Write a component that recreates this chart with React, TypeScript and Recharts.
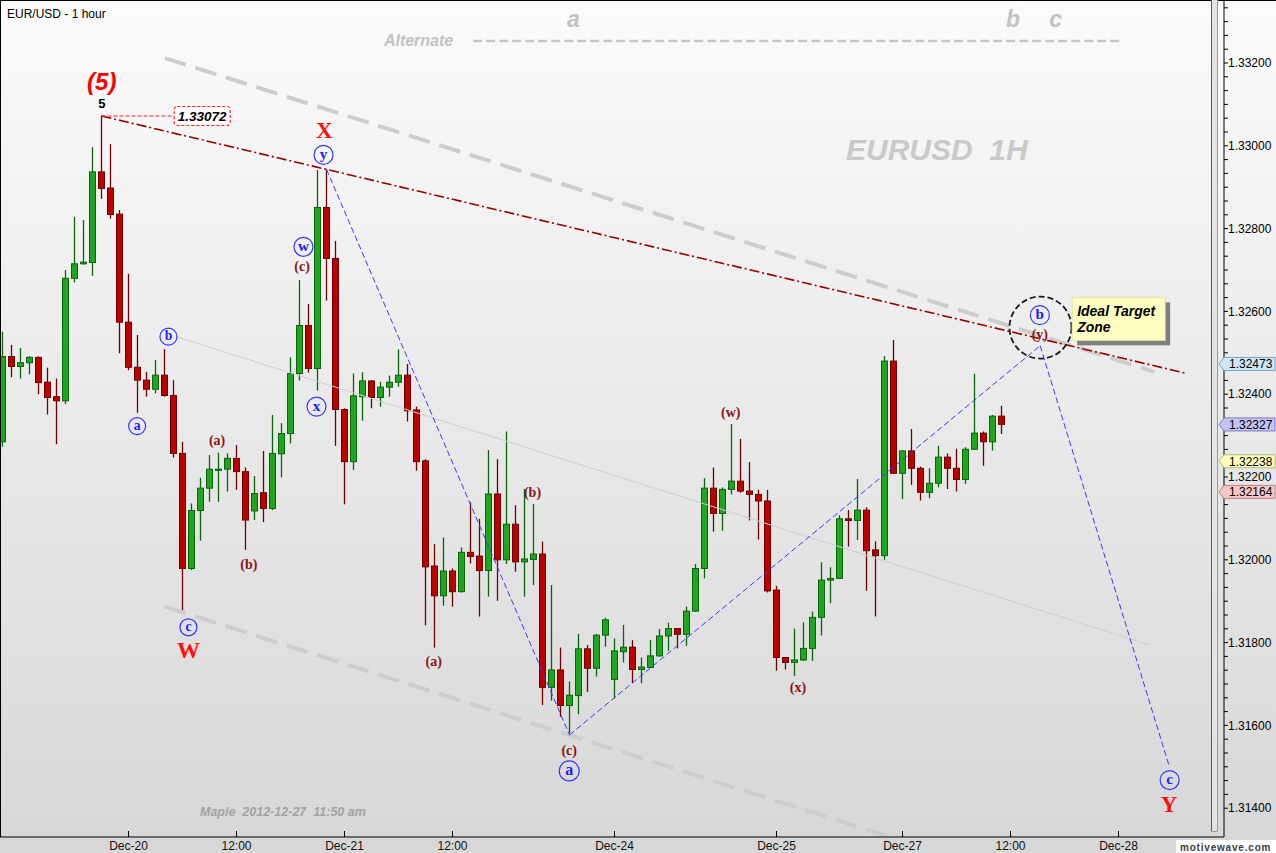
import React from 'react';
import { ComposedChart, XAxis, YAxis, Bar, ReferenceLine, ReferenceDot } from 'recharts';

const W = 1276;
const H = 853;
const X_MIN = -0.27778;
const X_MAX = 135.72222;
const Y_MIN = 1.31330435;
const Y_MAX = 1.33352174;

const SERIF = '"Liberation Serif", "DejaVu Serif", serif';
const SANS = '"Liberation Sans", Arial, sans-serif';

// ---- candle data (EUR/USD 1 hour) ----
const opens = [
  1.32285, 1.32491, 1.32467, 1.32476, 1.32489, 1.32429, 1.32394, 1.32384, 1.32680, 1.32715,
  1.32718, 1.32937, 1.32898, 1.32835, 1.32574, 1.32465, 1.32434, 1.32412, 1.32446, 1.32397,
  1.32257, 1.31979, 1.32119, 1.32173, 1.32216, 1.32219, 1.32245, 1.32213, 1.32118, 1.32162,
  1.32124, 1.32256, 1.32305, 1.32450, 1.32566, 1.32462, 1.32851, 1.32728, 1.32363, 1.32237,
  1.32394, 1.32432, 1.32392, 1.32417, 1.32429, 1.32446, 1.32362, 1.32239, 1.31985, 1.31913,
  1.31973, 1.31923, 1.32018, 1.32009, 1.31974, 1.32159, 1.32000, 1.32086, 1.31995, 1.32001,
  1.32014, 1.31692, 1.31734, 1.31648, 1.31672, 1.31785, 1.31738, 1.31818, 1.31711, 1.31778,
  1.31789, 1.31735, 1.31740, 1.31768, 1.31816, 1.31834, 1.31820, 1.31876, 1.31979, 1.32173,
  1.32112, 1.32170, 1.32190, 1.32166, 1.32158, 1.32142, 1.31927, 1.31764, 1.31752, 1.31758,
  1.31786, 1.31861, 1.31951, 1.31955, 1.32099, 1.32095, 1.32120, 1.32024, 1.32010, 1.32480,
  1.32209, 1.32263, 1.32221, 1.32163, 1.32185, 1.32248, 1.32221, 1.32194, 1.32267, 1.32306,
  1.32285, 1.32347,
];
const highs = [
  1.32551, 1.32519, 1.32512, 1.32492, 1.32491, 1.32464, 1.32438, 1.32700, 1.32828, 1.32821,
  1.32997, 1.33072, 1.33004, 1.32845, 1.32691, 1.32543, 1.32454, 1.32483, 1.32509, 1.32434,
  1.32285, 1.32136, 1.32198, 1.32253, 1.32259, 1.32257, 1.32277, 1.32223, 1.32202, 1.32263,
  1.32350, 1.32330, 1.32489, 1.32676, 1.32618, 1.32942, 1.32943, 1.32770, 1.32366, 1.32450,
  1.32453, 1.32434, 1.32430, 1.32445, 1.32508, 1.32473, 1.32370, 1.32243, 1.32038, 1.32054,
  1.31979, 1.32030, 1.32139, 1.32099, 1.32265, 1.32243, 1.32310, 1.32132, 1.32171, 1.32135,
  1.32044, 1.31939, 1.31788, 1.31706, 1.31821, 1.31794, 1.31821, 1.31860, 1.31810, 1.31843,
  1.31806, 1.31764, 1.31806, 1.31833, 1.31848, 1.31834, 1.31887, 1.31990, 1.32197, 1.32223,
  1.32175, 1.32328, 1.32292, 1.32236, 1.32169, 1.32169, 1.31937, 1.31764, 1.31834, 1.31849,
  1.31875, 1.31994, 1.31982, 1.32108, 1.32120, 1.32195, 1.32127, 1.32045, 1.32492, 1.32531,
  1.32265, 1.32316, 1.32225, 1.32221, 1.32275, 1.32257, 1.32268, 1.32272, 1.32449, 1.32310,
  1.32350, 1.32372,
];
const lows = [
  1.32273, 1.32441, 1.32438, 1.32448, 1.32400, 1.32351, 1.32279, 1.32376, 1.32670, 1.32713,
  1.32686, 1.32872, 1.32824, 1.32499, 1.32458, 1.32355, 1.32394, 1.32402, 1.32394, 1.32247,
  1.31876, 1.31975, 1.32046, 1.32140, 1.32140, 1.32165, 1.32169, 1.32024, 1.32096, 1.32091,
  1.32120, 1.32199, 1.32281, 1.32433, 1.32452, 1.32409, 1.32626, 1.32275, 1.32134, 1.32217,
  1.32336, 1.32366, 1.32370, 1.32394, 1.32418, 1.32334, 1.32215, 1.31842, 1.31788, 1.31889,
  1.31887, 1.31921, 1.31991, 1.31863, 1.31911, 1.31901, 1.31990, 1.31971, 1.31911, 1.31939,
  1.31649, 1.31660, 1.31621, 1.31577, 1.31627, 1.31681, 1.31718, 1.31790, 1.31665, 1.31752,
  1.31702, 1.31702, 1.31740, 1.31766, 1.31780, 1.31786, 1.31792, 1.31875, 1.31955, 1.32068,
  1.32070, 1.32158, 1.32162, 1.32095, 1.32049, 1.31921, 1.31732, 1.31735, 1.31719, 1.31756,
  1.31756, 1.31817, 1.31895, 1.31955, 1.32032, 1.32048, 1.31925, 1.31863, 1.32000, 1.32209,
  1.32147, 1.32181, 1.32143, 1.32149, 1.32175, 1.32171, 1.32165, 1.32183, 1.32267, 1.32227,
  1.32264, 1.32304,
];
const closes = [
  1.32491, 1.32467, 1.32476, 1.32489, 1.32428, 1.32392, 1.32384, 1.32680, 1.32715, 1.32719,
  1.32937, 1.32897, 1.32834, 1.32574, 1.32465, 1.32434, 1.32412, 1.32446, 1.32397, 1.32257,
  1.31979, 1.32119, 1.32173, 1.32219, 1.32219, 1.32245, 1.32213, 1.32096, 1.32160, 1.32124,
  1.32257, 1.32305, 1.32450, 1.32566, 1.32462, 1.32851, 1.32728, 1.32363, 1.32237, 1.32396,
  1.32432, 1.32392, 1.32417, 1.32429, 1.32446, 1.32360, 1.32237, 1.31983, 1.31913, 1.31973,
  1.31923, 1.32018, 1.32008, 1.31974, 1.32159, 1.32000, 1.32086, 1.31995, 1.32002, 1.32014,
  1.31692, 1.31734, 1.31648, 1.31673, 1.31785, 1.31738, 1.31818, 1.31855, 1.31780, 1.31789,
  1.31735, 1.31741, 1.31768, 1.31816, 1.31834, 1.31820, 1.31876, 1.31979, 1.32173, 1.32112,
  1.32170, 1.32190, 1.32166, 1.32158, 1.32142, 1.31925, 1.31764, 1.31752, 1.31758, 1.31786,
  1.31861, 1.31951, 1.31955, 1.32099, 1.32095, 1.32120, 1.32022, 1.32010, 1.32480, 1.32209,
  1.32263, 1.32221, 1.32163, 1.32185, 1.32248, 1.32221, 1.32194, 1.32267, 1.32306, 1.32285,
  1.32347, 1.32327,
];

// ---- axes ----
const xTickIdx = [14, 26, 38, 50, 68, 86, 100, 112, 124];
const xTickLabels = ['Dec-20', '12:00', 'Dec-21', '12:00', 'Dec-24', 'Dec-25', 'Dec-27', '12:00', 'Dec-28'];
const yMajorTicks = [1.314, 1.316, 1.318, 1.32, 1.322, 1.324, 1.326, 1.328, 1.33, 1.332];
const yMinorPerMajor = 6;

// ---- price tags on the right axis ----
const priceTags = [
  { value: 1.32473, fill: '#cfe7f5', stroke: '#7aa6bf' },
  { value: 1.32327, fill: '#c4c4f4', stroke: '#7c7cc0' },
  { value: 1.32238, fill: '#ffffbe', stroke: '#b8b87a' },
  { value: 1.32164, fill: '#f7c6c6', stroke: '#c08080' },
];

// ---- annotation lines (index, price) ----
const channelUpper = [{ x: 18.03, y: 1.33212 }, { x: 128.0, y: 1.32454 }];
const channelLower = [{ x: 18.0, y: 1.31887 }, { x: 101.0, y: 1.31314 }];
const channelMid = [{ x: 19.3, y: 1.32539 }, { x: 127.5, y: 1.31794 }];
const trendLine = [{ x: 11, y: 1.33072 }, { x: 131.6, y: 1.3245 }];
const bluePath = [
  { x: 36, y: 1.32943 },
  { x: 63, y: 1.31577 },
  { x: 115.3, y: 1.32517 },
  { x: 129.6, y: 1.31504 },
];
const altLine = [{ x: 52.3, y: 1.33253 }, { x: 124.5, y: 1.33253 }];
const highMark = { x: 11, y: 1.33072, boxX: 19.08, text: '1.33072' };

// ---- wave labels (index, price of the label centre) ----
const redLetters = [
  { t: 'X', i: 35.76, p: 1.33036 },
  { t: 'W', i: 20.66, p: 1.31782 },
  { t: 'Y', i: 129.63, p: 1.31409 },
];
const minorLabels = [
  { t: '(a)', i: 23.84, p: 1.32287 },
  { t: '(b)', i: 27.37, p: 1.31987 },
  { t: '(c)', i: 33.29, p: 1.32706 },
  { t: '(a)', i: 47.91, p: 1.31752 },
  { t: '(b)', i: 58.89, p: 1.32162 },
  { t: '(c)', i: 62.97, p: 1.31538 },
  { t: '(w)', i: 80.92, p: 1.32354 },
  { t: '(x)', i: 88.39, p: 1.3169 },
  { t: '(y)', i: 115.26, p: 1.32543 },
];
const circleLabels = [
  { t: 'y', i: 35.67, p: 1.32978, r: 9.5 },
  { t: 'w', i: 33.44, p: 1.32756, r: 9.5 },
  { t: 'x', i: 34.89, p: 1.3237, r: 9.5 },
  { t: 'b', i: 18.44, p: 1.32539, r: 8.5 },
  { t: 'a', i: 14.96, p: 1.32323, r: 8.5 },
  { t: 'c', i: 20.66, p: 1.31837, r: 8.5 },
  { t: 'a', i: 62.97, p: 1.3149, r: 10 },
  { t: 'b', i: 115.26, p: 1.32591, r: 9.5 },
  { t: 'c', i: 129.68, p: 1.31468, r: 9.5 },
];
const altLabels = [
  { t: 'a', i: 63.42, p: 1.33304 },
  { t: 'b', i: 112.28, p: 1.33304 },
  { t: 'c', i: 117.01, p: 1.33304 },
];
const altTitle = { t: 'Alternate', i: 46.23, p: 1.33256 };
const degreeLabel = { t: '(5)', i: 11.03, p: 1.33151 };
const minorDegree = { t: '5', i: 11.03, p: 1.33103 };
const targetRing = { i: 115.33, p: 1.32561 };
const targetNote = { lines: ['Ideal Target', 'Zone'], i: 118.85, p: 1.32634 };

const candles = opens.map((o, i) => ({
  i,
  open: o,
  high: highs[i],
  low: lows[i],
  close: closes[i],
  range: [lows[i], highs[i]],
}));

const yTicks: number[] = [];
yMajorTicks.forEach((m, k) => {
  yTicks.push(m);
  if (k < yMajorTicks.length - 1) {
    for (let s = 1; s < yMinorPerMajor; s++) yTicks.push(m + (0.002 * s) / yMinorPerMajor);
  }
});
for (let s = 1; s <= 4; s++) yTicks.push(1.332 + (0.002 * s) / yMinorPerMajor);
const isMajor = (v: number) => yMajorTicks.some((m) => Math.abs(m - v) < 1e-7);

function Candle(props: any) {
  const { x, y, width, height, payload } = props;
  if (!payload) return null;
  const { open, close, high, low } = payload;
  const span = high - low;
  const yOf = (v: number) => (span > 0 ? y + ((high - v) / span) * height : y);
  const up = close >= open;
  const cx = Math.round(x + width / 2) - 0.5;
  const top = yOf(Math.max(open, close));
  const bot = yOf(Math.min(open, close));
  const body = up ? '#1fa51f' : '#bb0000';
  const edge = up ? '#0a650a' : '#6e0000';
  return (
    <g>
      <line x1={cx} x2={cx} y1={y} y2={y + height} stroke={edge} strokeWidth={1.3} />
      <rect x={cx - 3} y={top} width={6} height={Math.max(1, bot - top)} fill={body} stroke={edge} strokeWidth={1} />
    </g>
  );
}

function XTick(props: any) {
  const { x, y, payload } = props;
  const k = xTickIdx.indexOf(payload.value);
  return (
    <g>
      <line x1={x} x2={x} y1={y - 6} y2={y} stroke="#000" strokeWidth={1} />
      <text x={x} y={y + 12.5} textAnchor="middle" fontSize={12} fontFamily={SANS} fill="#111">
        {k >= 0 ? xTickLabels[k] : ''}
      </text>
    </g>
  );
}

const txt = (t: string, cx: number, baseline: number, o: any) => (
  <text x={cx} y={baseline} textAnchor="middle" {...o}>
    {t}
  </text>
);

export default function App() {
  return (
    <div style={{ position: 'absolute', left: 0, top: 0, width: W, height: H, overflow: 'hidden' }}>
      <svg width={W} height={H} style={{ position: 'absolute', left: 0, top: 0 }}>
        <defs>
          <linearGradient id="bgGrad" x1="0" y1="0" x2="0" y2="1">
            <stop offset="0%" stopColor="#fbfbfb" />
            <stop offset="100%" stopColor="#d7d7d7" />
          </linearGradient>
        </defs>
        <rect x={0} y={0} width={W} height={H} fill="url(#bgGrad)" />
        <text x={7} y={17.5} fontSize={12} fontFamily={SANS} fill="#000">
          EUR/USD - 1 hour
        </text>
        <text x={846} y={160} fontSize={30} fontFamily={SANS} fontWeight="bold" fontStyle="italic" fill="#c9c9c9" style={{ whiteSpace: 'pre' }}>
          {'EURUSD  1H'}
        </text>
        <text x={200} y={816} fontSize={12.5} fontFamily={SANS} fontWeight="bold" fontStyle="italic" fill="#a3a3a3" style={{ whiteSpace: 'pre' }}>
          {'Maple  2012-12-27  11:50 am'}
        </text>
      </svg>

      <div style={{ position: 'absolute', left: 0, top: 0 }}>
        <ComposedChart width={W} height={H} data={candles} margin={{ top: 0, right: 0, bottom: 0, left: 0 }}>
          <XAxis
            dataKey="i"
            type="number"
            domain={[X_MIN, X_MAX]}
            allowDataOverflow
            ticks={xTickIdx}
            interval={0}
            height={16}
            tickSize={0}
            tickMargin={0}
            tickLine={false}
            axisLine={{ stroke: '#000' }}
            tick={<XTick />}
          />
          <YAxis
            orientation="right"
            type="number"
            domain={[Y_MIN, Y_MAX]}
            allowDataOverflow
            ticks={yTicks}
            interval={0}
            width={52}
            tickSize={4}
            tickMargin={0}
            axisLine={{ stroke: '#000' }}
            tickLine={{ stroke: '#000' }}
            tick={{ fontSize: 12, fill: '#000', fontFamily: SANS }}
            tickFormatter={(v: number) => (isMajor(v) ? v.toFixed(5) : '')}
          />

          <ReferenceLine segment={channelMid} stroke="#cfcfcf" strokeWidth={1} ifOverflow="hidden" />
          <ReferenceLine segment={channelUpper} stroke="#cdcdcd" strokeWidth={4} strokeDasharray="22 10" ifOverflow="hidden" />
          <ReferenceLine segment={channelLower} stroke="#cdcdcd" strokeWidth={4} strokeDasharray="22 10" ifOverflow="hidden" />
          <ReferenceLine segment={altLine} stroke="#c6c6c6" strokeWidth={2.5} strokeDasharray="9 4" ifOverflow="visible" />

          <Bar dataKey="range" barSize={7} shape={(p: any) => <Candle {...p} />} isAnimationActive={false} />

          <ReferenceLine segment={trendLine} stroke="#990000" strokeWidth={1.6} strokeDasharray="10 3 2 3" ifOverflow="hidden" />
          {bluePath.slice(1).map((pt, k) => (
            <ReferenceLine
              key={'bp' + k}
              segment={[bluePath[k], pt]}
              stroke="#3a3aff"
              strokeWidth={1}
              strokeDasharray="6 3"
              ifOverflow="visible"
            />
          ))}
          <ReferenceLine
            segment={[{ x: highMark.x, y: highMark.y }, { x: highMark.boxX, y: highMark.y }]}
            stroke="#ff2020"
            strokeWidth={1.2}
            strokeDasharray="4 2"
            ifOverflow="visible"
          />

          <ReferenceDot
            x={highMark.boxX}
            y={highMark.y}
            r={1}
            ifOverflow="visible"
            shape={(p: any) => (
              <g>
                <rect x={p.cx} y={p.cy - 9.5} width={56} height={19} rx={3} fill="#ffffff" stroke="#ff2020" strokeWidth={1.2} strokeDasharray="3 2" />
                {txt(highMark.text, p.cx + 28, p.cy + 5, { fontSize: 13.5, fontFamily: SANS, fontWeight: 'bold', fontStyle: 'italic', fill: '#000' })}
              </g>
            )}
          />

          <ReferenceDot
            x={altTitle.i}
            y={altTitle.p}
            r={1}
            ifOverflow="visible"
            shape={(p: any) => txt(altTitle.t, p.cx, p.cy + 5.8, { fontSize: 16, fontFamily: SANS, fontWeight: 'bold', fontStyle: 'italic', fill: '#c3c3c3' })}
          />
          {altLabels.map((l, k) => (
            <ReferenceDot
              key={'al' + k}
              x={l.i}
              y={l.p}
              r={1}
              ifOverflow="visible"
              shape={(p: any) => txt(l.t, p.cx, p.cy + 7, { fontSize: 23, fontFamily: SANS, fontWeight: 'bold', fontStyle: 'italic', fill: '#c3c3c3' })}
            />
          ))}

          <ReferenceDot
            x={degreeLabel.i}
            y={degreeLabel.p}
            r={1}
            ifOverflow="visible"
            shape={(p: any) => txt(degreeLabel.t, p.cx, p.cy + 6.3, { fontSize: 24, fontFamily: SANS, fontWeight: 'bold', fontStyle: 'italic', fill: '#ff0000' })}
          />
          <ReferenceDot
            x={minorDegree.i}
            y={minorDegree.p}
            r={1}
            ifOverflow="visible"
            shape={(p: any) => txt(minorDegree.t, p.cx, p.cy + 4.7, { fontSize: 13, fontFamily: SANS, fontWeight: 'bold', fill: '#000' })}
          />

          {redLetters.map((l, k) => (
            <ReferenceDot
              key={'rl' + k}
              x={l.i}
              y={l.p}
              r={1}
              ifOverflow="visible"
              shape={(p: any) => txt(l.t, p.cx, p.cy + 7.6, { fontSize: 23, fontFamily: SERIF, fontWeight: 'bold', fill: '#ff1010' })}
            />
          ))}
          {minorLabels.map((l, k) => (
            <ReferenceDot
              key={'ml' + k}
              x={l.i}
              y={l.p}
              r={1}
              ifOverflow="visible"
              shape={(p: any) => txt(l.t, p.cx, p.cy + 3.8, { fontSize: 14, fontFamily: SERIF, fontWeight: 'bold', fill: '#8a1414' })}
            />
          ))}
          {circleLabels.map((l, k) => (
            <ReferenceDot
              key={'cl' + k}
              x={l.i}
              y={l.p}
              r={1}
              ifOverflow="visible"
              shape={(p: any) => (
                <g>
                  <circle cx={p.cx} cy={p.cy} r={l.r} fill="none" stroke="#3535ff" strokeWidth={1.2} />
                  {txt(l.t, p.cx, p.cy + l.r * 0.45, { fontSize: l.r * 1.6, fontFamily: SERIF, fontWeight: 'bold', fill: '#1c1cff' })}
                </g>
              )}
            />
          ))}

          <ReferenceDot
            x={targetRing.i}
            y={targetRing.p}
            r={1}
            ifOverflow="visible"
            shape={(p: any) => <circle cx={p.cx} cy={p.cy} r={31} fill="none" stroke="#1a1a1a" strokeWidth={1.8} strokeDasharray="6 3" />}
          />
          <ReferenceDot
            x={targetNote.i}
            y={targetNote.p}
            r={1}
            ifOverflow="visible"
            shape={(p: any) => (
              <g>
                <rect x={p.cx + 5} y={p.cy + 5} width={93} height={43} fill="#7e7e7e" />
                <rect x={p.cx} y={p.cy} width={93} height={43} fill="#ffffc2" stroke="#e2e2a8" strokeWidth={1} />
                {targetNote.lines.map((ln, k) => (
                  <text key={k} x={p.cx + 5} y={p.cy + 18.4 + k * 16.6} fontSize={14} fontFamily={SANS} fontWeight="bold" fontStyle="italic" fill="#000">
                    {ln}
                  </text>
                ))}
              </g>
            )}
          />

          {priceTags.map((t, k) => (
            <ReferenceDot
              key={'pt' + k}
              x={X_MAX}
              y={t.value}
              r={1}
              ifOverflow="visible"
              shape={(p: any) => (
                <g>
                  <path
                    d={`M${p.cx - 5},${p.cy} L${p.cx},${p.cy - 6.5} L${p.cx + 51},${p.cy - 6.5} L${p.cx + 51},${p.cy + 6.5} L${p.cx},${p.cy + 6.5} Z`}
                    fill={t.fill}
                    stroke={t.stroke}
                    strokeWidth={1}
                  />
                  <text x={p.cx + 5} y={p.cy + 4.5} fontSize={12} fontFamily={SANS} fill="#000">
                    {t.value.toFixed(5)}
                  </text>
                </g>
              )}
            />
          ))}
        </ComposedChart>
      </div>

      <svg width={W} height={H} style={{ position: 'absolute', left: 0, top: 0, pointerEvents: 'none' }}>
        <line x1={0} x2={W} y1={0.5} y2={0.5} stroke="#000" />
        <line x1={0.5} x2={0.5} y1={0} y2={837} stroke="#000" />
        <rect x={1212} y={0} width={6} height={831} fill="#e4e4e4" />
        <line x1={1211.5} x2={1211.5} y1={0} y2={831} stroke="#5a5a5a" />
        <line x1={1217.5} x2={1217.5} y1={0} y2={831} stroke="#9a9a9a" />
        <line x1={1211.5} x2={1217.5} y1={831.5} y2={831.5} stroke="#9a9a9a" />
        <rect x={1176} y={840} width={100} height={13} fill="#ffffff" />
        <text x={1180} y={850.5} fontSize={10} fontFamily={SANS} fontWeight="bold" letterSpacing={0.8} fill="#3c3c3c">
          motivewave.com
        </text>
      </svg>
    </div>
  );
}
